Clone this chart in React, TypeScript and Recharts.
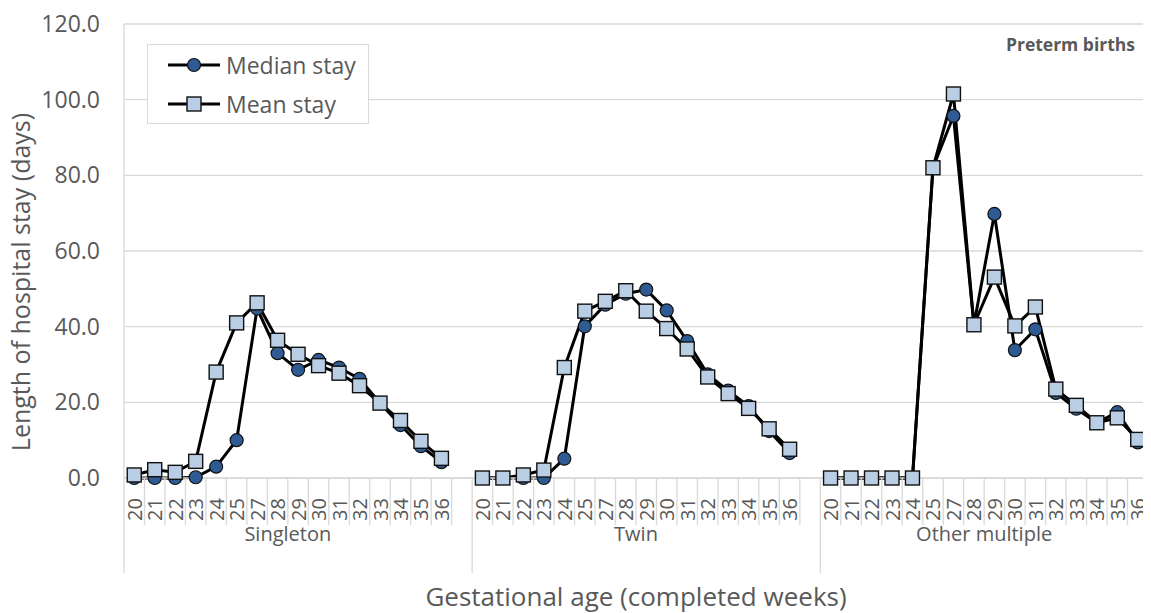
import React from "react";
import {
  LineChart,
  Line,
  XAxis,
  YAxis,
  CartesianGrid,
  Legend,
  Label,
} from "recharts";

// weeks shown in each group (26 is not in the source table)
const weeks = ["20", "21", "22", "23", "24", "25", "27", "28", "29", "30", "31", "32", "33", "34", "35", "36"];
const groups = ["Singleton", "Twin", "Other multiple"];

const singletonMedian = [0, 0, 0, 0.2, 3, 10, 44.8, 33, 28.6, 31.2, 29.2, 26.2, 19.8, 14, 8.4, 4.2];
const singletonMean = [0.8, 2.2, 1.5, 4.4, 28, 41, 46.3, 36.4, 32.7, 29.7, 27.7, 24.4, 19.8, 15.2, 9.7, 5.2];
const twinMedian = [0, 0, 0, 0, 5.1, 40.1, 45.8, 48.7, 49.8, 44.3, 36.2, 27.4, 23.1, 19, 12.4, 6.6];
const twinMean = [0, 0, 0.8, 2.1, 29.2, 44.1, 46.7, 49.5, 44.1, 39.5, 34.1, 26.7, 22.3, 18.4, 13, 7.6];
const otherMedian = [0, 0, 0, 0, 0, 82, 95.7, 40.5, 69.8, 33.8, 39.3, 22.5, 18.3, 14.6, 17.4, 9.4];
const otherMean = [0, 0, 0, 0, 0, 82, 101.5, 40.5, 53.1, 40.2, 45.2, 23.5, 19.2, 14.6, 15.9, 10.2];

const yTicks = [0, 20, 40, 60, 80, 100, 120];

const medians = [singletonMedian, twinMedian, otherMedian];
const means = [singletonMean, twinMean, otherMean];

// one row per category; each group gets its own keys so lines break between groups.
// the source sheet has an empty row after Singleton and Twin, kept as a blank slot.
type Row = Record<string, string | number | null>;
const data: Row[] = groups.flatMap((g, gi) => {
  const rows: Row[] = weeks.map((w, wi) => {
    const row: Row = { key: `${gi}-${w}`, week: w, group: g, pos: wi };
    groups.forEach((_, k) => {
      row[`median${k}`] = k === gi ? medians[gi][wi] : null;
      row[`mean${k}`] = k === gi ? means[gi][wi] : null;
    });
    return row;
  });
  if (gi < groups.length - 1) rows.push({ key: `${gi}-blank`, week: "", group: g, pos: weeks.length });
  return rows;
});

const FONT = "'Open Sans', 'Noto Sans', sans-serif";
const GREY = "#595959";
const GRID = "#d9d9d9";
const DARK = "#2f5b94";
const LIGHT = "#b9cde5";

const W = 1151;
const H = 613;
const MARGIN = { top: 24, right: 3, left: 0, bottom: 40 };
const Y_W = 124;
const X_H = 95;
const PLOT_W = W - MARGIN.left - MARGIN.right - Y_W;
const PLOT_H = H - MARGIN.top - MARGIN.bottom - X_H;
const STEP = PLOT_W / data.length;

function WeekTick(props: any) {
  const { x, y, index } = props;
  const row = data[index];
  const pos = row?.pos as number;
  const ty = y + 20;
  return (
    <g>
      <text
        x={x}
        y={ty}
        transform={`rotate(-90 ${x} ${ty})`}
        textAnchor="end"
        dominantBaseline="central"
        fontSize={20}
        fontFamily={FONT}
        fill={GREY}
      >
        {row?.week}
      </text>
      <line x1={x - STEP / 2} x2={x - STEP / 2} y1={y} y2={pos === 0 ? y + X_H : y + 47} stroke={GRID} strokeWidth={1.3} />
      {pos === weeks.length / 2 && (
        <text x={x - STEP / 2} y={y + 55} textAnchor="middle" dominantBaseline="central" fontSize={20} fontFamily={FONT} fill={GREY}>
          {row?.group}
        </text>
      )}
      {index === data.length - 1 && (
        <line x1={x + STEP / 2} x2={x + STEP / 2} y1={y - PLOT_H} y2={y + X_H} stroke={GRID} strokeWidth={1.3} />
      )}
    </g>
  );
}

const circleDot = (p: any) =>
  p.cy == null || p.value == null ? (
    <g key={p.key} />
  ) : (
    <circle key={p.key} cx={p.cx} cy={p.cy} r={6.5} fill={DARK} stroke="#111" strokeWidth={1.2} />
  );

const squareDot = (p: any) =>
  p.cy == null || p.value == null ? (
    <g key={p.key} />
  ) : (
    <rect key={p.key} x={p.cx - 7} y={p.cy - 7} width={14} height={14} fill={LIGHT} stroke="#111" strokeWidth={1.4} />
  );

function LegendBox() {
  const item = (label: string, marker: React.ReactNode) => (
    <div style={{ display: "flex", alignItems: "center", height: 39 }}>
      <svg width={56} height={20} style={{ marginRight: 4 }}>
        <line x1={2} x2={54} y1={10} y2={10} stroke="#000" strokeWidth={3} />
        {marker}
      </svg>
      <span>{label}</span>
    </div>
  );
  return (
    <div
      style={{
        border: `1.5px solid ${GRID}`,
        background: "#fff",
        width: 222,
        height: 80,
        boxSizing: "border-box",
        padding: "0 0 0 18px",
        fontFamily: FONT,
        fontSize: 23,
        color: GREY,
      }}
    >
      {item("Median stay", <circle cx={28} cy={10} r={6.5} fill={DARK} stroke="#111" strokeWidth={1.2} />)}
      {item("Mean stay", <rect x={21} y={3} width={14} height={14} fill={LIGHT} stroke="#111" strokeWidth={1.4} />)}
    </div>
  );
}

export default function App() {
  return (
    <div style={{ position: "relative", width: W, height: H, marginTop: -8, marginLeft: -8 }}>
      <LineChart width={W} height={H} data={data} margin={MARGIN}>
        <CartesianGrid vertical={false} stroke={GRID} strokeWidth={1.3} />
        <XAxis
          dataKey="key"
          interval={0}
          height={X_H}
          padding={{ left: STEP / 2, right: STEP / 2 }}
          tickSize={0}
          tickMargin={0}
          tickLine={false}
          axisLine={{ stroke: GRID, strokeWidth: 1.3 }}
          tick={<WeekTick />}
        >
          <Label
            content={({ viewBox }: any) => (
              <text
                x={viewBox.x + viewBox.width / 2}
                y={viewBox.y + viewBox.height + 23}
                textAnchor="middle"
                dominantBaseline="central"
                fontSize={26}
                fontFamily={FONT}
                fill={GREY}
              >
                Gestational age (completed weeks)
              </text>
            )}
          />
        </XAxis>
        <YAxis
          domain={[0, 120]}
          ticks={yTicks}
          width={Y_W}
          tickSize={0}
          tickMargin={24}
          tickLine={false}
          axisLine={{ stroke: GRID, strokeWidth: 1.3 }}
          tickFormatter={(v: number) => v.toFixed(1)}
          tick={{ fontSize: 23, fill: GREY, fontFamily: FONT }}
        >
          <Label
            content={({ viewBox }: any) => {
              const cx = viewBox.x + 20;
              const cy = viewBox.y + viewBox.height / 2 + 31;
              return (
                <text
                  x={cx}
                  y={cy}
                  transform={`rotate(-90 ${cx} ${cy})`}
                  textAnchor="middle"
                  dominantBaseline="central"
                  fontSize={25}
                  fontFamily={FONT}
                  fill={GREY}
                >
                  Length of hospital stay (days)
                </text>
              );
            }}
          />
        </YAxis>
        <Legend
          layout="vertical"
          align="center"
          verticalAlign="middle"
          content={<LegendBox />}
          wrapperStyle={{ left: 147, top: 44, width: 222, height: 80 }}
        />
        {groups.map((_, k) => (
          <Line
            key={`median${k}`}
            dataKey={`median${k}`}
            stroke="#000"
            strokeWidth={3}
            dot={circleDot}
            activeDot={false}
            connectNulls={false}
            isAnimationActive={false}
          />
        ))}
        {groups.map((_, k) => (
          <Line
            key={`mean${k}`}
            dataKey={`mean${k}`}
            stroke="#000"
            strokeWidth={3}
            dot={squareDot}
            activeDot={false}
            connectNulls={false}
            isAnimationActive={false}
          />
        ))}
      </LineChart>
      <div
        style={{
          position: "absolute",
          right: 16,
          top: 32,
          fontFamily: FONT,
          fontWeight: 700,
          fontSize: 17.5,
          lineHeight: "24px",
          color: GREY,
        }}
      >
        Preterm births
      </div>
    </div>
  );
}
